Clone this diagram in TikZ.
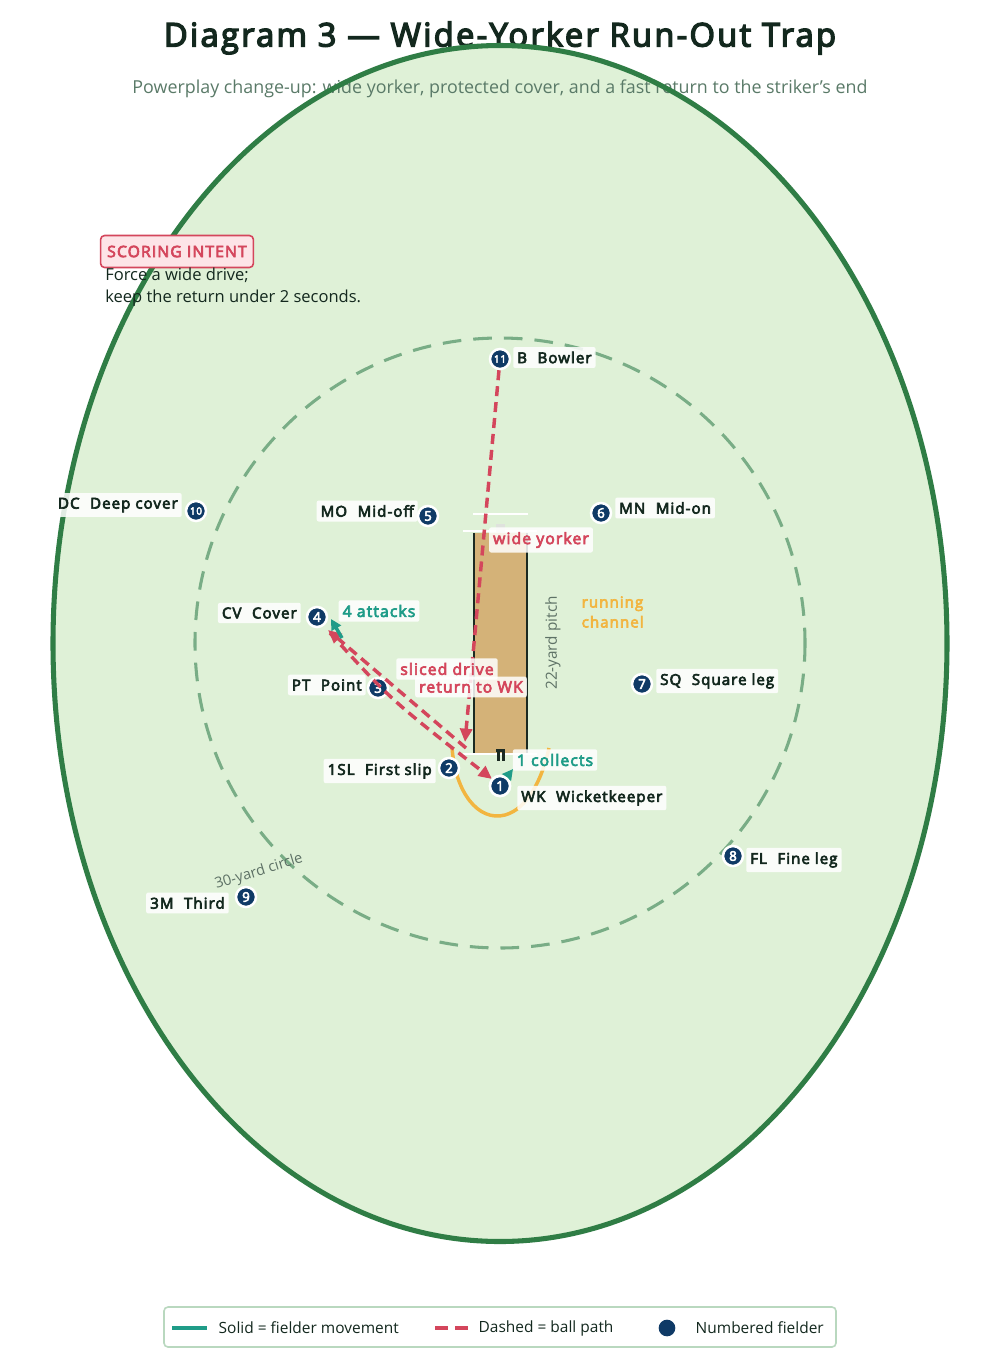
\documentclass[tikz,border=0pt]{standalone}
\usepackage{fontspec}
\setmainfont{Open Sans}
\newfontfamily\bsans{Open Sans}[FakeBold=4.2, LetterSpace=7]
\usetikzlibrary{arrows.meta}
\definecolor{navy}{HTML}{0F3A66}
\definecolor{darktxt}{HTML}{13281E}
\definecolor{subtxt}{HTML}{5A7A68}
\definecolor{ballred}{HTML}{D4465C}
\definecolor{moveteal}{HTML}{1F9C88}
\definecolor{runorange}{HTML}{F2B540}
\definecolor{fieldfill}{HTML}{DFF1D7}
\definecolor{fieldline}{HTML}{2F7D45}
\definecolor{ringline}{HTML}{79AD86}
\definecolor{pitchfill}{HTML}{D4B278}
\definecolor{pitchedge}{HTML}{1B2A22}
\definecolor{greytxt}{HTML}{5E7266}
\definecolor{pinkfill}{HTML}{FDE4E7}
\definecolor{legendline}{HTML}{B9D8BF}
\tikzset{
  fielder/.style={circle, fill=navy, draw=white, line width=1.9pt, minimum size=15pt, inner sep=0pt,
    text=white, font=\fontsize{10}{10}\selectfont\bsans},
  twodig/.style={font=\fontsize{7.5}{8}\selectfont\bsans},
  flab/.style={fill=white, fill opacity=0.85, text opacity=1, rounded corners=1.5pt, inner xsep=3pt, inner ysep=3.5pt,
    font=\fontsize{11.3}{13}\selectfont\bsans, text=darktxt},
  redlab/.style={flab, text=ballred, font=\fontsize{11.8}{13}\selectfont\bsans},
  teallab/.style={flab, text=moveteal, font=\fontsize{11.8}{13}\selectfont\bsans},
  ball/.style={draw=ballred, line width=2.6pt, dash pattern=on 7.5pt off 4.5pt, -{Triangle[length=10pt,width=9pt]}},
  move/.style={draw=moveteal, line width=2.6pt, -{Triangle[length=8pt,width=8pt]}},
}
\begin{document}
\begin{tikzpicture}[x=0.75pt,y=-0.75pt]
\useasboundingbox (0,0) rectangle (1000,1361);
\fill[white] (0,0) rectangle (1000,1361);
% field
\fill[fieldfill] (500,643.5) ellipse [x radius=447, y radius=598];
% titles
\node[font=\fontsize{24.5}{28}\selectfont\bsans, text=darktxt] (title) at (500,38) {Diagram 3 — Wide-Yorker Run-Out Trap};
\node[font=\fontsize{13.4}{15}\selectfont, text=subtxt] (subtitle) at (500,89) {Powerplay change-up: wide yorker, protected cover, and a fast return to the striker’s end};
\draw[fieldline, line width=3.8pt] (500,643.5) ellipse [x radius=447, y radius=598];
% 30-yard circle
\draw[ringline, line width=2.3pt, dash pattern=on 14pt off 9pt] (500,643) circle [radius=305];
\node[rotate=17, text=greytxt, font=\fontsize{11}{13}\selectfont] (ringlab) at (259,872) {30-yard circle};
% pitch
\fill[pitchfill] (474,533) rectangle (527,753);
\draw[pitchedge, line width=2pt] (474,533) -- (474,753);
\draw[pitchedge, line width=2pt] (527,533) -- (527,753);
\draw[white, line width=1.6pt] (473,514) -- (528,514);
\draw[white, line width=1.6pt] (463,531) -- (537,531);
\draw[white, line width=1.6pt] (463,754) -- (537,754);
\fill[gray!25, opacity=0.8] (496,524) rectangle (505,533);
\fill[pitchedge] (496,749) rectangle (505,751.5);
\fill[pitchedge] (496.5,749) rectangle (499.5,761);
\fill[pitchedge] (501.5,749) rectangle (504.5,761);
\node[rotate=90, text=greytxt, font=\fontsize{11.5}{13}\selectfont] (pitchlab) at (553,643) {22-yard pitch};
\node[text=runorange, font=\fontsize{11.3}{15}\selectfont\bsans, align=left, anchor=west] (chanlab) at (577,612) {running\\channel};
% running channel
\draw[runorange, line width=2.6pt] (452,747) .. controls (455,792) and (478,822) .. (505,815) .. controls (527,809) and (542,780) .. (549,748);
% fielders
\node[fielder, twodig] (f11) at (500,359) {11};
\node[fielder, twodig] (f10) at (196,511) {10};
\node[fielder] (f5) at (428,516) {5};
\node[fielder] (f6) at (601,513) {6};
\node[fielder] (f4) at (317,617) {4};
\node[fielder] (f3) at (378,688) {3};
\node[fielder] (f7) at (642,684) {7};
\node[fielder] (f2) at (449,768) {2};
\node[fielder] (f8) at (733,856) {8};
\node[fielder] (f9) at (246,897) {9};
% path coordinates
\coordinate (pitchpt) at (465,742);
\coordinate (bat) at (466,748);
\coordinate (cvpt) at (328,630);
\coordinate (retstart) at (330,633);
\coordinate (wkpt) at (492,779);
\coordinate (atkstart) at (342,638);
\coordinate (atkend) at (331,619);
\coordinate (wkend) at (513,769);
% ball paths
\draw[ball] (f11) -- (pitchpt);
\draw[ball] (bat) -- (cvpt);
\draw[ball] (retstart) .. controls (391,700) .. (wkpt);
% movements
\draw[move] (atkstart) -- (atkend);
\node[fielder] (f1) at (500,786) {1};
\draw[move] (f1) -- (wkend);
\node[fielder] at (500,786) {1};
% fielder labels
\node[flab, anchor=west] (l11) at (513,357.5) {B\hspace{0.7em}Bowler};
\node[flab, anchor=east] (l10) at (182,505) {DC\hspace{0.7em}Deep cover};
\node[flab, anchor=east] (l5) at (418,511) {MO\hspace{0.7em}Mid-off};
\node[flab, anchor=west] (l6) at (615,508) {MN\hspace{0.7em}Mid-on};
\node[flab, anchor=east] (l4) at (301,613) {CV\hspace{0.7em}Cover};
\node[flab, anchor=east] (l3) at (366,685) {PT\hspace{0.7em}Point};
\node[flab, anchor=west] (l7) at (656,681) {SQ\hspace{0.7em}Square leg};
\node[flab, anchor=east] (l2) at (436,771) {1SL\hspace{0.7em}First slip};
\node[flab, anchor=west] (l1) at (517,798) {WK\hspace{0.7em}Wicketkeeper};
\node[flab, anchor=west] (l8) at (746,860) {FL\hspace{0.7em}Fine leg};
\node[flab, anchor=east] (l9) at (229,903) {3M\hspace{0.7em}Third};
% annotations
\node[redlab] (wy) at (541,540) {wide yorker};
\node[redlab] (sd) at (447,669) {sliced drive};
\node[redlab] (rw) at (471,687) {return to WK};
\node[teallab] (att) at (379,611) {4 attacks};
\node[teallab] (col) at (555,760) {1 collects};
% scoring intent
\node[draw=ballred, fill=pinkfill, line width=1.2pt, rounded corners=3pt, text=ballred, font=\fontsize{11.8}{13}\selectfont\bsans, inner xsep=5pt, inner ysep=3pt, minimum height=24pt] (intent) at (177,251.5) {SCORING INTENT};
\node[anchor=west, text=darktxt, font=\fontsize{12.4}{16.5}\selectfont, align=left, inner sep=0pt] (intenttxt) at (105,287) {Force a wide drive;\\keep the return under 2 seconds.};
% legend
\draw[legendline, fill=white, line width=1.2pt, rounded corners=3pt] (164,1307) rectangle (836,1347);
\coordinate (lg1a) at (172,1328);
\coordinate (lg1b) at (207,1328);
\coordinate (lg2a) at (435,1328);
\coordinate (lg2b) at (470,1328);
\draw[moveteal, line width=2.6pt] (lg1a) -- (lg1b);
\node[anchor=west, font=\fontsize{11.6}{13}\selectfont, text=darktxt] (lgt1) at (214,1328) {Solid = fielder movement};
\draw[ballred, line width=2.6pt, dash pattern=on 10pt off 5pt] (lg2a) -- (lg2b);
\node[anchor=west, font=\fontsize{11.6}{13}\selectfont, text=darktxt] (lgt2) at (474,1328) {Dashed = ball path};
\node[circle, fill=navy, minimum size=12.5pt, inner sep=0pt] (lgdot) at (667,1328) {};
\node[anchor=west, font=\fontsize{11.6}{13}\selectfont, text=darktxt] (lgt3) at (691,1328) {Numbered fielder};
\end{tikzpicture}
\end{document}
